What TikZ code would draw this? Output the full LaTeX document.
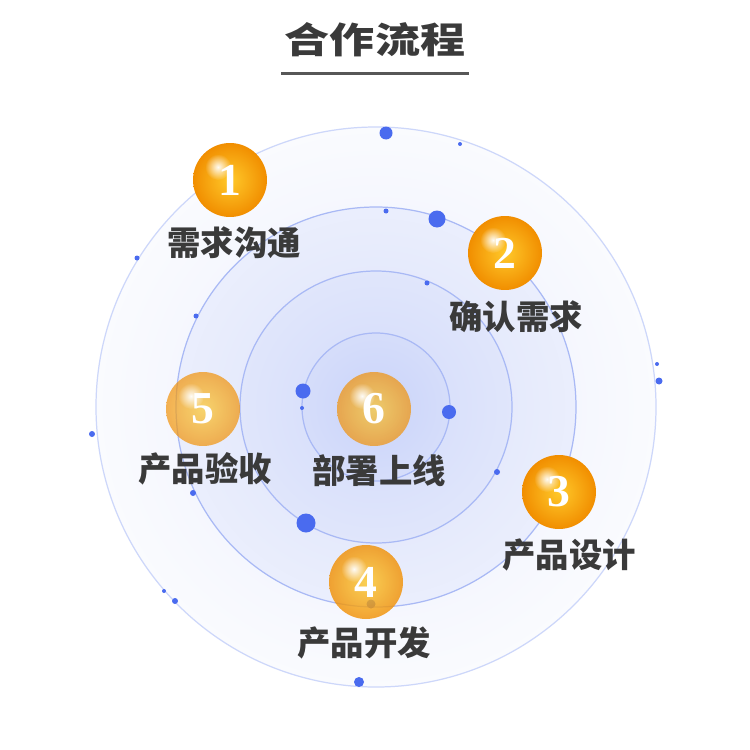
\documentclass[tikz,border=0pt]{standalone}
\usepackage{fontspec}
\setmainfont{Liberation Serif}
\newfontfamily\cjk{Noto Sans CJK SC Black}
\usetikzlibrary{fadings}
\definecolor{Slate}{HTML}{3A3A3A}
\definecolor{Royal}{HTML}{4A6BEF}
\definecolor{Rim}{HTML}{A9B9F5}
\definecolor{RimPale}{HTML}{CDD7FA}
\definecolor{Amber}{HTML}{FFC92A}
\definecolor{Tangerine}{HTML}{F18E00}
\tikzfading[name=glossfade,inner color=transparent!5,outer color=transparent!100]

\begin{document}
\begin{tikzpicture}[x=0.02cm,y=-0.02cm,
      ring/.style={draw=Rim,line width=0.7pt,shading=radial},
      ball/.style={circle,minimum size=1.48cm,inner sep=0pt,shading=radial,
        inner color=Amber,outer color=Tangerine,text=white,text opacity=1,
        font=\bfseries\fontsize{26}{26}\selectfont},
      gloss/.style={fill=white,path fading=glossfade},
      stage/.style={text=Slate,inner sep=0pt,font=\cjk\fontsize{19}{19}\selectfont}]
      \useasboundingbox[fill=white] (0,0) rectangle (750,750);
      % title
      \node[text=Slate,inner sep=0pt,font=\cjk\fontsize{20.5}{20.5}\selectfont] (title) at (375,40)
        {\scalebox{1.25}[1]{合作流程}};
      \draw[Slate!85,line width=1.4pt] ([xshift=-2pt,yshift=-9pt]title.south west) -- ([xshift=2pt,yshift=-9pt]title.south east);
      % rings
      \coordinate (o) at (376,407);
      \draw[ring,draw=RimPale,inner color=Rim!25,outer color=Rim!6] (o) circle (280);
      \draw[ring,inner color=Rim!42,outer color=Rim!24] (o) circle (200);
      \draw[ring,inner color=Rim!52,outer color=Rim!36] (o) circle (136);
      \draw[ring,inner color=Rim!62,outer color=Rim!48] (o) circle (74);
      % orbit dots
      \foreach \x/\y/\r in {386/133/6.5,460/144/2,137/258/2.5,386/211/2.5,437/219/8.5,
          196/316/2.5,427/283/2.5,657/364/2,659/381/3.5,92/434/3,303/391/7.5,302/408/2,
          449/412/7,497/472/3,193/493/3,306/523/9.5,164/591/2,175/601/3,371/604/4.5,359/682/5}
        \fill[Royal] (\x,\y) circle (\r);
      % steps
      \node[ball] (b1) at (230,180) {1};
      \node[ball] (b2) at (505,253) {2};
      \node[ball] (b3) at (559,492) {3};
      \node[ball,fill opacity=0.8] (b4) at (366,582) {4};
      \node[ball,fill opacity=0.68] (b5) at (203,409) {5};
      \node[ball,fill opacity=0.68] (b6) at (374,409) {6};
      \foreach \b in {b1,b2,b3,b4,b5,b6}
        \fill[gloss] ([shift={(-12,-13)}]\b.center) circle (13);
      \node[stage] (l1) at (234,243) {需求沟通};
      \node[stage] (l2) at (516,317) {确认需求};
      \node[stage] (l3) at (569,555) {产品设计};
      \node[stage] (l4) at (364,643) {产品开发};
      \node[stage] (l5) at (205,469) {产品验收};
      \node[stage] (l6) at (379,471) {部署上线};
    \end{tikzpicture}
\end{document}
